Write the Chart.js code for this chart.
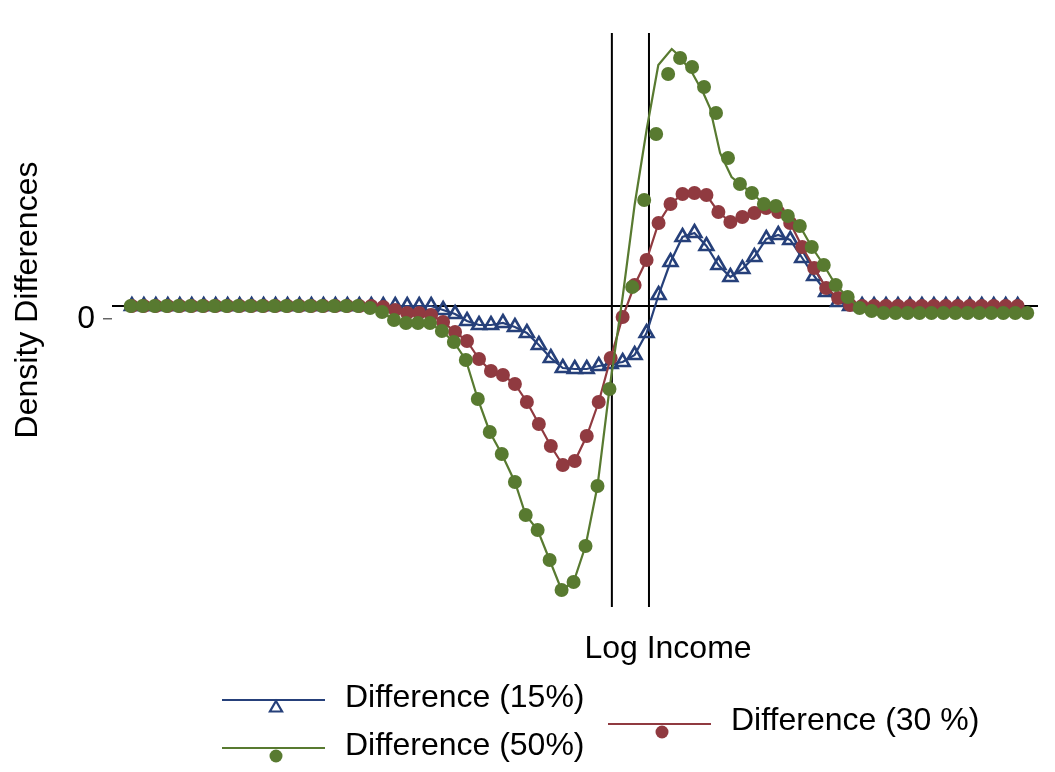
<!DOCTYPE html>
<html>
<head>
<meta charset="utf-8">
<script src="https://cdn.jsdelivr.net/npm/chart.js@4/dist/chart.umd.min.js"></script>
<style>
  body { margin: 0; background: #fff; }
  #wrap { width: 1055px; height: 772px; }
</style>
</head>
<body>
<div id="wrap"><canvas id="density_chart" width="1055" height="772"></canvas></div>
<script>
// grid positions (log income, arbitrary units) and density differences
const gridX = Array.from({ length: 75 }, (_, i) => i);

const diff15 = [
    0, 0, 0, 0, 0, 0, 0, 0, 0, 0, 0, 0, 0, 0, 0, 0, 0, 0, 0, 0,
    0, 0, 0, 0, 0, 0, -0.004, -0.008, -0.015, -0.019, -0.019, -0.017, -0.021, -0.027, -0.039,
    -0.052, -0.062, -0.063, -0.063, -0.060, -0.058, -0.056, -0.049, -0.027, 0.011,
    0.044, 0.069, 0.073, 0.060, 0.041, 0.029, 0.037, 0.049, 0.067, 0.071,
    0.066, 0.048, 0.030, 0.014, 0.004, 0, 0, 0, 0, 0, 0, 0, 0, 0, 0, 0, 0, 0, 0, 0
];

const diff30 = [
    0, 0, 0, 0, 0, 0, 0, 0, 0, 0, 0, 0, 0, 0, 0, 0, 0, 0, 0, 0,
    0, -0.001, -0.004, -0.007, -0.007, -0.009, -0.016, -0.026, -0.035, -0.053,
    -0.065, -0.069, -0.078, -0.096, -0.118, -0.140, -0.159, -0.155, -0.130, -0.096,
    -0.052, -0.011, 0.021, 0.046, 0.083, 0.102, 0.112, 0.113, 0.111, 0.094,
    0.084, 0.089, 0.093, 0.098, 0.094, 0.083, 0.059, 0.038, 0.018, 0.008,
    0.001, 0, 0, 0, 0, 0, 0, 0, 0, 0, 0, 0, 0, 0, 0
];

// 50% markers sit on a slightly different grid
const diff50X = [
    -0.1, 0.9, 1.9, 2.9, 3.9, 4.9, 5.9, 6.9, 7.9, 8.9, 9.9, 10.9, 11.9, 12.9, 13.9, 14.9, 15.9, 16.9, 17.9, 18.9,
    19.9, 20.9, 21.9, 22.9, 23.9, 24.9, 25.9, 26.9, 27.9, 28.9, 29.9, 30.9, 32.0, 32.9, 33.9,
    34.9, 35.9, 36.9, 37.9, 38.9, 39.9,
    41.8, 42.8, 43.8, 44.8, 45.8, 46.8, 47.8, 48.8, 49.8, 50.8, 51.8, 52.8, 53.8, 54.8,
    55.8, 56.8, 57.8, 58.8, 59.8, 60.8, 61.8, 62.8, 63.8, 64.8, 65.8, 66.8, 67.8, 68.8,
    69.8, 70.8, 71.8, 72.8, 73.8, 74.8
];
const diff50 = [
    0, 0, 0, 0, 0, 0, 0, 0, 0, 0, 0, 0, 0, 0, 0, 0, 0, 0, 0, 0,
    -0.002, -0.006, -0.014, -0.017, -0.017, -0.017, -0.025, -0.036, -0.054, -0.093,
    -0.126, -0.148, -0.176, -0.209, -0.224, -0.254, -0.284, -0.276, -0.240, -0.180,
    -0.083,
    0.019, 0.106, 0.172, 0.232, 0.248, 0.239, 0.219, 0.193, 0.148, 0.122,
    0.113, 0.102, 0.100, 0.090, 0.080, 0.059, 0.041, 0.021, 0.009, -0.002,
    -0.005, -0.007, -0.007, -0.007, -0.007, -0.007, -0.007, -0.007, -0.007, -0.007,
    -0.007, -0.007, -0.007, -0.007
];

// the 50% line departs from its markers around the peak
const peak50X = [41.0, 42.0, 43.0, 43.98, 45.1, 45.65, 46.77, 47.74, 48.3, 49.14, 50.1];
const peak50 = [0.009, 0.101, 0.176, 0.241, 0.257, 0.251, 0.234, 0.213, 0.198, 0.153, 0.129];

const vLines = [40.1, 43.2];
const yTickValues = [-0.013];
const yTickLabels = ['0'];

const NAVY = '#26407a';
const MAROON = '#903a40';
const GREEN = '#587a30';
const FONT = "'Liberation Sans', Arial, sans-serif";

function pts(xs, ys) {
    return xs.map((x, i) => ({ x: x, y: ys[i] }));
}

function prepareChart()
{
    const markers50 = pts(diff50X, diff50);
    const line50 = markers50.filter(p => p.x < 41)
        .concat(pts(peak50X, peak50))
        .concat(markers50.filter(p => p.x > 50.5));

    const refLines = {
        id: 'refLines',
        beforeDatasetsDraw(chart) {
            const { ctx, chartArea: a, scales: { x, y } } = chart;
            ctx.save();
            ctx.strokeStyle = '#000';
            ctx.lineWidth = 2;
            ctx.beginPath();
            const y0 = y.getPixelForValue(0);
            ctx.moveTo(a.left, y0);
            ctx.lineTo(a.right, y0);
            vLines.forEach(v => {
                const px = x.getPixelForValue(v);
                ctx.moveTo(px, a.top);
                ctx.lineTo(px, a.bottom);
            });
            ctx.stroke();
            ctx.restore();
        }
    };

    const extras = {
        id: 'extras',
        afterDraw(chart) {
            const ctx = chart.ctx;
            ctx.save();
            ctx.fillStyle = '#000';
            ctx.font = '32px ' + FONT;
            ctx.textBaseline = 'middle';
            ctx.textAlign = 'center';
            ctx.fillText('Log Income', 668, 649);

            ctx.save();
            ctx.translate(28, 300);
            ctx.rotate(-Math.PI / 2);
            ctx.fillText('Density Differences', 0, 0);
            ctx.restore();

            ctx.textAlign = 'left';
            const items = [
                { label: 'Difference (15%)', color: NAVY, tri: true, lx: 222, ly: 700, ty: 698 },
                { label: 'Difference (50%)', color: GREEN, tri: false, lx: 222, ly: 748, ty: 746 },
                { label: 'Difference (30 %)', color: MAROON, tri: false, lx: 608, ly: 724, ty: 721 }
            ];
            items.forEach(it => {
                ctx.strokeStyle = it.color;
                ctx.lineWidth = 2;
                ctx.beginPath();
                ctx.moveTo(it.lx, it.ly);
                ctx.lineTo(it.lx + 103, it.ly);
                ctx.stroke();
                const mx = it.lx + 54, my = it.ly + 8;
                if (it.tri) {
                    const r = 7;
                    ctx.lineWidth = 2.2;
                    ctx.beginPath();
                    ctx.moveTo(mx, my - r);
                    ctx.lineTo(mx + r * 0.866, my + r * 0.5);
                    ctx.lineTo(mx - r * 0.866, my + r * 0.5);
                    ctx.closePath();
                    ctx.stroke();
                } else {
                    ctx.fillStyle = it.color;
                    ctx.beginPath();
                    ctx.arc(mx, my, 6.5, 0, Math.PI * 2);
                    ctx.fill();
                }
                ctx.fillStyle = '#000';
                ctx.fillText(it.label, it.lx + 123, it.ty);
            });
            ctx.restore();
        }
    };

    const data = {
        datasets: [
            {
                label: 'Difference (50%) markers',
                data: markers50,
                showLine: false,
                pointStyle: 'circle',
                pointRadius: 7,
                pointBackgroundColor: GREEN,
                pointBorderWidth: 0,
                borderColor: GREEN
            },
            {
                label: 'Difference (50%)',
                data: line50,
                showLine: true,
                pointRadius: 0,
                borderColor: GREEN,
                borderWidth: 2.2
            },
            {
                label: 'Difference (30 %)',
                data: pts(gridX, diff30),
                showLine: true,
                borderColor: MAROON,
                borderWidth: 2.2,
                pointStyle: 'circle',
                pointRadius: 7,
                pointBackgroundColor: MAROON,
                pointBorderWidth: 0
            },
            {
                label: 'Difference (15%)',
                data: pts(gridX, diff15),
                showLine: true,
                borderColor: NAVY,
                borderWidth: 2.2,
                pointStyle: 'triangle',
                pointRadius: 8,
                pointBackgroundColor: 'rgba(255,255,255,0)',
                pointBorderColor: NAVY,
                pointBorderWidth: 2.6
            }
        ]
    };

    const config = {
        type: 'scatter',
        data: data,
        plugins: [refLines, extras],
        options: {
            responsive: false,
            animation: false,
            layout: { padding: { left: 0, top: 33, right: 17, bottom: 165 } },
            elements: { line: { tension: 0 } },
            plugins: { legend: { display: false }, tooltip: { enabled: false } },
            scales: {
                x: { type: 'linear', display: false, min: -1.66, max: 75.7 },
                y: {
                    min: -0.301,
                    max: 0.273,
                    afterFit: s => { s.width = 112; },
                    afterBuildTicks: s => { s.ticks = yTickValues.map(v => ({ value: v })); },
                    ticks: {
                        callback: (v, i) => yTickLabels[i],
                        font: { family: FONT, size: 32 },
                        color: '#000',
                        padding: 8
                    },
                    grid: { drawOnChartArea: false, drawTicks: true, tickLength: 9, color: '#666', lineWidth: 1.5 },
                    border: { display: false },
                    title: { display: false }
                }
            }
        }
    };

    new Chart(document.getElementById('density_chart'), config);
}

window.addEventListener('load', prepareChart);
</script>
</body>
</html>
